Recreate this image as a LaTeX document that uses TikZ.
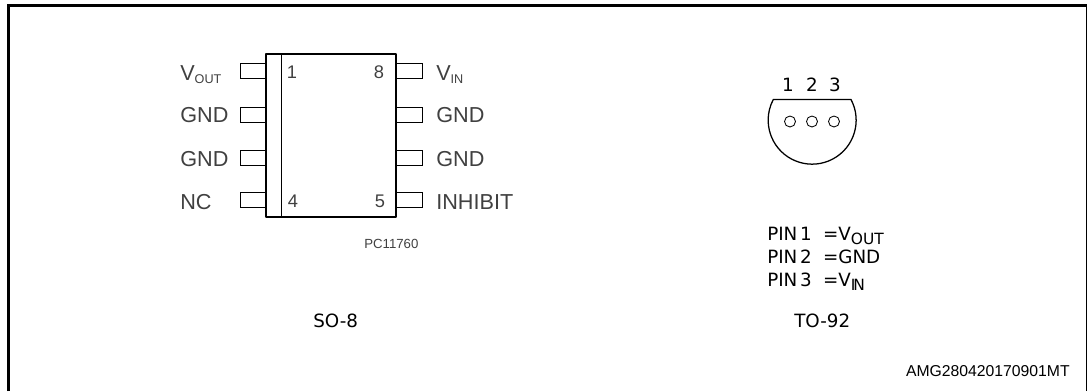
\documentclass[tikz,border=0pt]{standalone}
\usepackage{fontspec}
\setmainfont{Liberation Sans}
\newfontfamily\verdanafont{DejaVu Sans}
\definecolor{labelgray}{gray}{0.25}
\tikzset{
    pinbox/.style={draw=black,line width=0.7pt},
    pinlabel/.style={inner sep=0pt,anchor=base west,text=labelgray,font=\fontsize{15.4}{15.4}\selectfont},
    pinnumber/.style={inner sep=0pt,anchor=base,text=labelgray,font=\fontsize{13}{13}\selectfont},
    tolabel/.style={inner sep=0pt,anchor=base west,font=\verdanafont\fontsize{13}{13}\selectfont},
}
\newcommand{\pinsub}[1]{\raisebox{-2.2pt}{\fontsize{9}{9}\selectfont #1}}
\newcommand{\tosub}[1]{\raisebox{-3pt}{\fontsize{11}{11}\selectfont #1}}
\begin{document}
\begin{tikzpicture}[x=0.025cm,y=-0.025cm]
                \useasboundingbox (0,0) rectangle (1088,391);
                % outer frame, open at the bottom
                \draw[line width=2pt] (8.3,391) -- (8.3,5.8) -- (1086.5,5.8);
                \draw[line width=1.4pt] (1086.5,5.8) -- (1086.5,391);

                % SO-8 pins
                \foreach \y in {63,107,150,192} {
                    \draw[pinbox] (266,\y) -- (240.5,\y) -- (240.5,\y+15) -- (266,\y+15);
                    \draw[pinbox] (396,\y) -- (422,\y) -- (422,\y+15) -- (396,\y+15);
                }
                \draw[line width=2pt,line join=round] (266,54) rectangle (396,217);
                \draw[line width=0.7pt] (281,54) -- (281,217);

                \node[pinnumber] (num1) at (292,78) {1};
                \node[pinnumber] (num8) at (379,78) {8};
                \node[pinnumber] (num4) at (293,207) {4};
                \node[pinnumber] (num5) at (380,207) {5};

                \node[pinlabel] (voutlabel) at (180,80) {V\pinsub{OUT}};
                \node[pinlabel] (gndlefta) at (180,122.5) {GND};
                \node[pinlabel] (gndleftb) at (180,166) {GND};
                \node[pinlabel] (nclabel) at (180,209) {NC};
                \node[pinlabel] (vinlabel) at (436,80) {V\pinsub{IN}};
                \node[pinlabel] (gndrighta) at (436,122.5) {GND};
                \node[pinlabel] (gndrightb) at (436,166) {GND};
                \node[pinlabel] (inhibitlabel) at (436,209) {INHIBIT};

                \node[inner sep=0pt,anchor=base west,text=labelgray,font=\fontsize{9.4}{9.4}\selectfont] (partcode) at (364,248) {PC11760};

                % TO-92 outline
                \draw[line width=0.9pt] (851,99.5) arc (-28:208:44) -- cycle;
                \foreach \x in {790,812,834} {
                    \draw[line width=0.6pt] (\x,121.5) circle (5.5);
                }
                \foreach[count=\i] \x in {788,812,835} {
                    \node[inner sep=0pt,anchor=base,font=\verdanafont\fontsize{13}{13}\selectfont] (pinnum\i) at (\x,91) {\i};
                }

                \node[tolabel] (pina) at (767,240) {PIN\kern2pt 1\kern8pt =V\tosub{OUT}};
                \node[tolabel] (pinb) at (767,263) {PIN\kern2pt 2\kern8pt =GND};
                \node[tolabel] (pinc) at (767,286) {PIN\kern2pt 3\kern8pt =V\tosub{I\kern-1.5pt N}};
                \node[tolabel] (topackage) at (794,327) {TO-92};
                \node[tolabel] (sopackage) at (313,327) {SO-8};

                \node[inner sep=0pt,anchor=base east,font=\fontsize{11.2}{11.2}\selectfont] (drawingcode) at (1070,376) {AMG280420170901MT};
\end{tikzpicture}
\end{document}
